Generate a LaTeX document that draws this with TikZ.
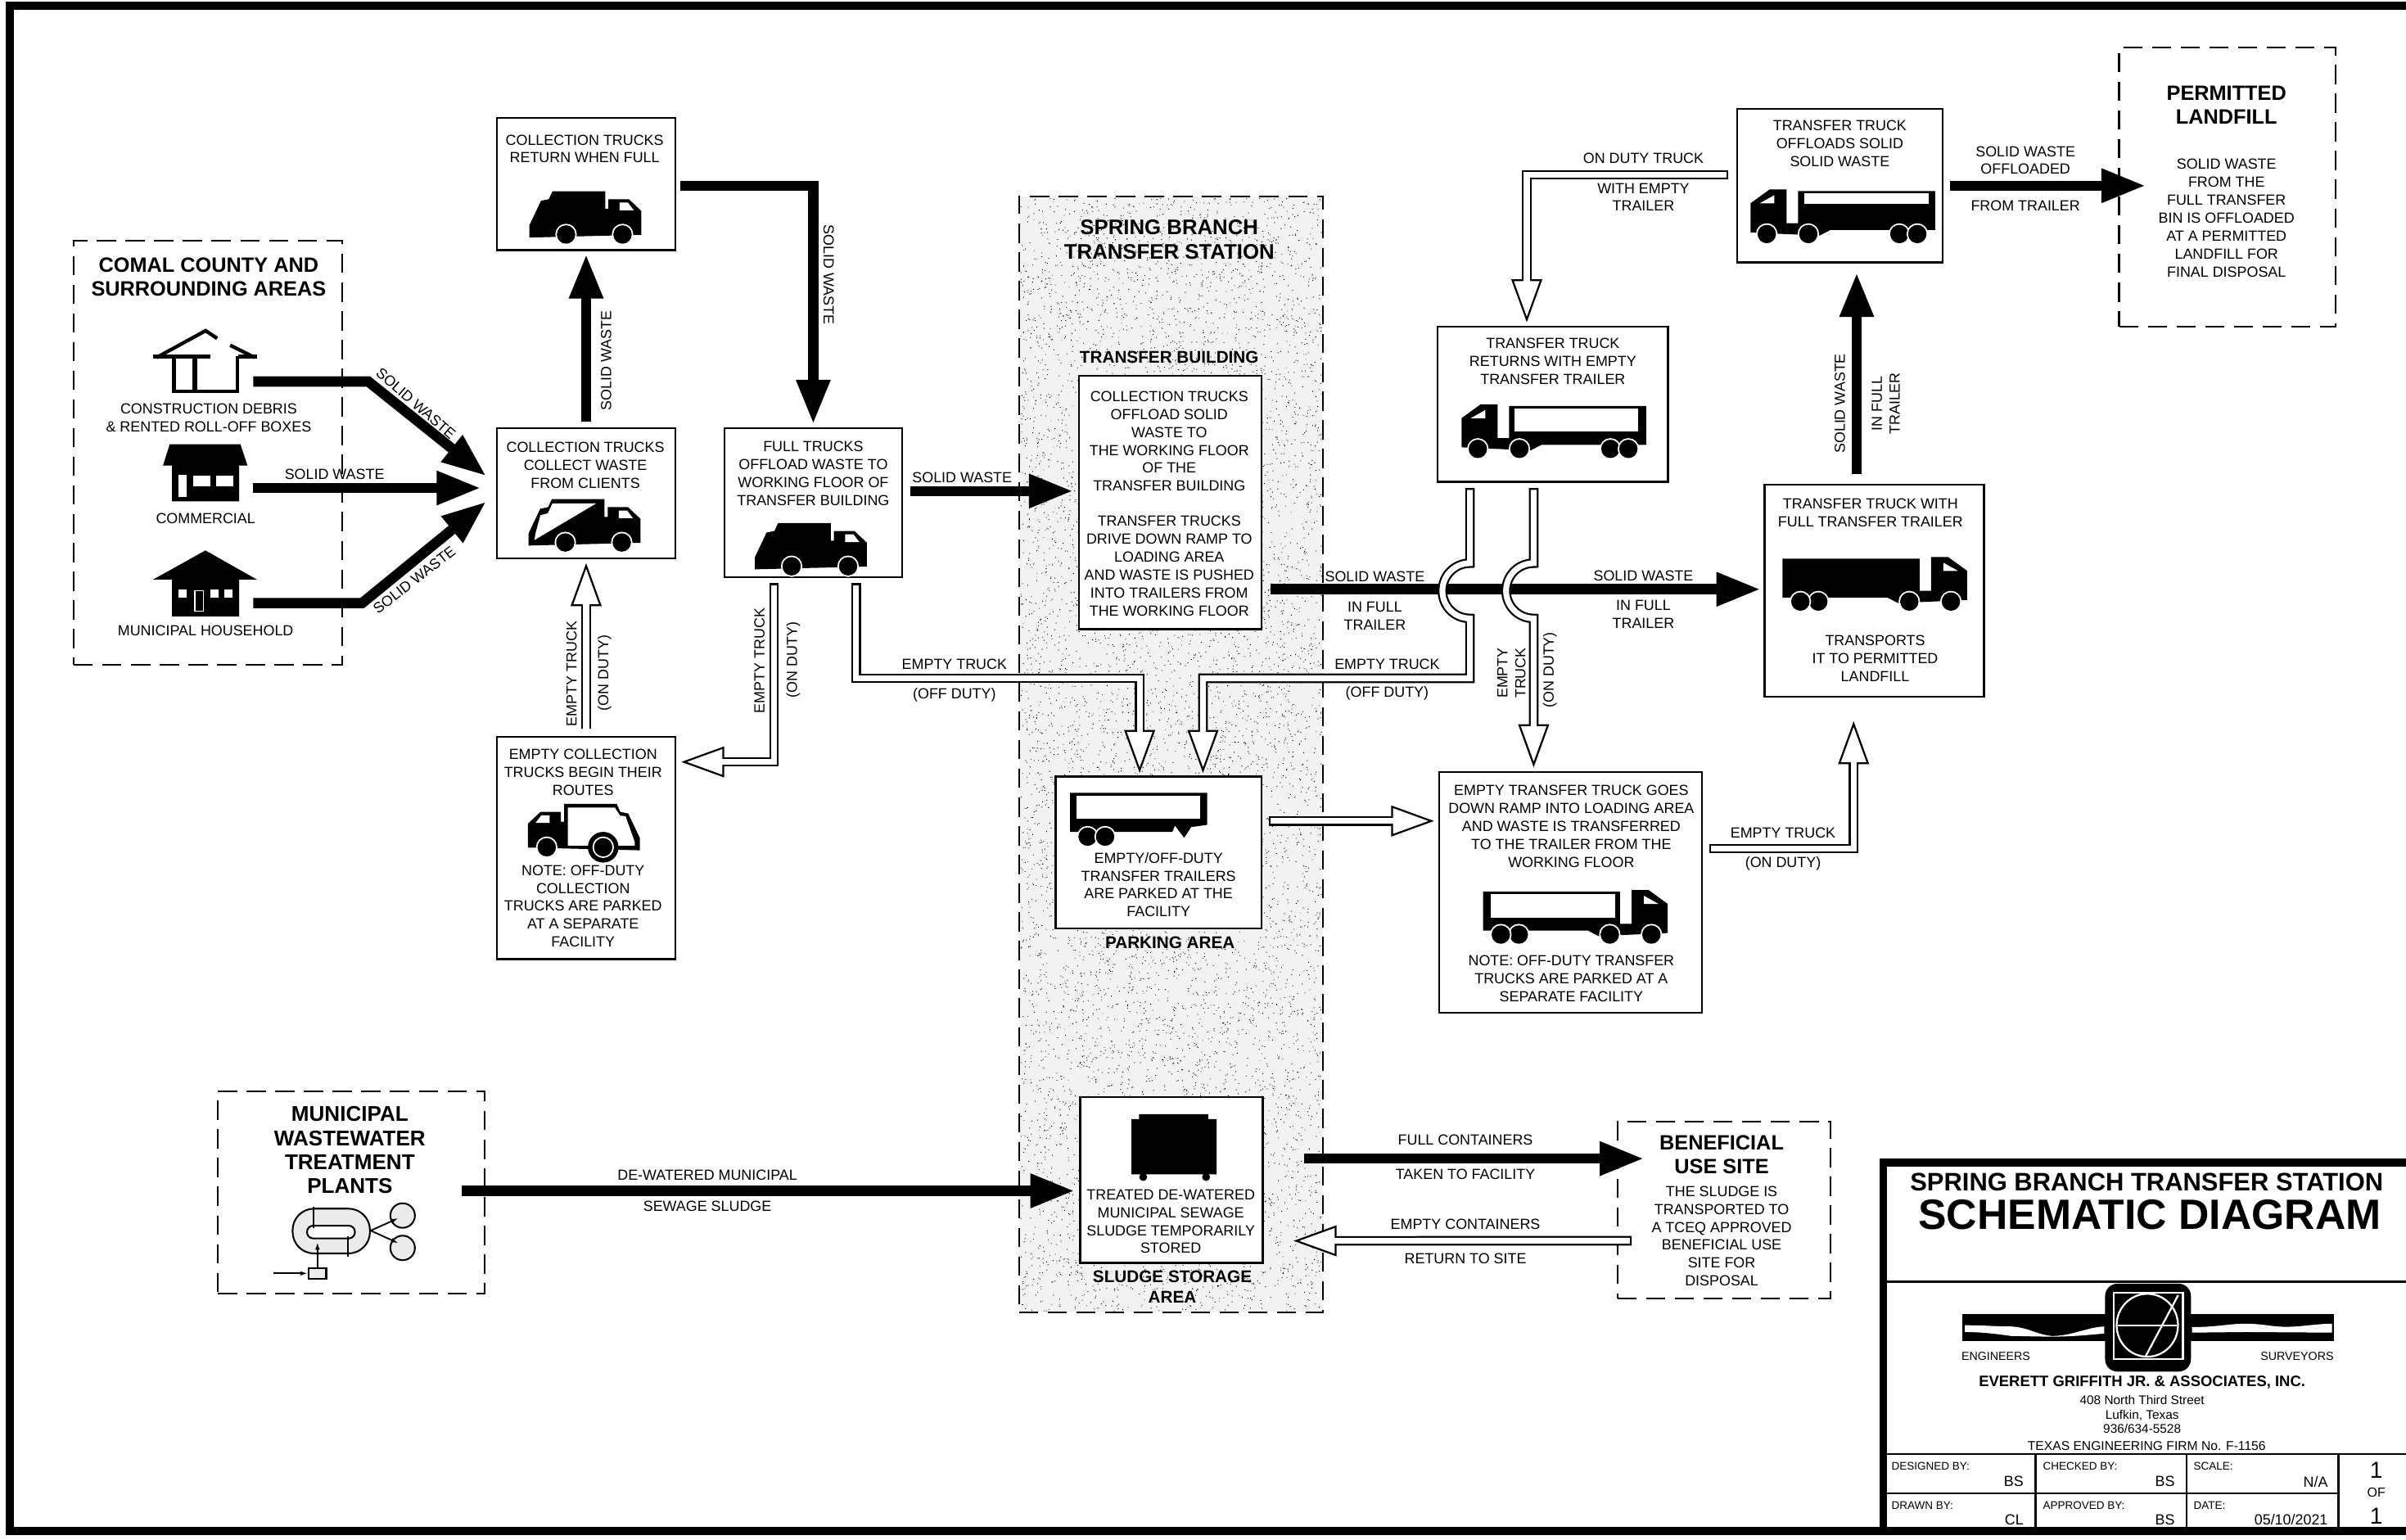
\documentclass[tikz,border=0pt]{standalone}
\usepackage{fontspec}
\setmainfont{Liberation Sans}
\usetikzlibrary{arrows.meta}
\newcommand\fsn{\fontsize{9.55}{11.7}\selectfont}
\newcommand\fst{\fontsize{13.5}{15.3}\selectfont\bfseries}
\newcommand\fsm{\fontsize{11.05}{13}\selectfont\bfseries}
\newcommand\wheelat[2]{\fill[white] (#1,#2) circle[radius=7pt]; \fill[black] (#1,#2) circle[radius=6pt];}
% garbage truck: origin at rear-left bottom, facing right; #1 scope options, #2 extra drawing before wheels
\newcommand\garbage[2]{\begin{scope}[#1]
\fill[black] (0,0) -- (0,-8) -- (7.6,-24) -- (12.7,-25) -- (15.1,-30.2) -- (49.4,-30.2) -- (49.4,-18.7) -- (51.5,-18.7) -- (51.5,-25) -- (64.8,-25) -- (72.9,-17.4) -- (72.9,-1.8) -- cycle;
\fill[white] (58.8,-22.8) -- (64.2,-22.8) -- (68,-17.8) -- (58.8,-17.8) -- cycle;
#2
\wheelat{23.9}{-2}\wheelat{60.7}{-2}
\end{scope}}
% transfer truck: origin at cab end bottom, cab on the left of the local frame
\newcommand\ttruck[2]{\begin{scope}[#1]
\fill[black] (0,-19) -- (12.4,-28) -- (23.5,-28) -- (23.5,-6) -- (31,-6) -- (31,-27) -- (120.3,-27) -- (120.3,-1.6) -- (52,-1.6) -- (45,2) -- (0,0) -- cycle;
\fill[white] (6,-19) -- (15.5,-19) -- (15.5,-24.3) -- cycle;
#2
\wheelat{10.6}{1}\wheelat{37.7}{1}\wheelat{97}{1}\wheelat{108.7}{1}
\end{scope}}
\tikzset{
  solidbox/.style={draw=black,line width=1.2pt,fill=white,inner sep=0pt,outer sep=0pt},
  dashbox/.style={draw=black,line width=1.1pt,dash pattern=on 12.5pt off 6.2pt,inner sep=0pt,outer sep=0pt},
  txt/.style={inner sep=0pt,outer sep=0pt,align=center,font=\fsn},
  ttl/.style={inner sep=0pt,outer sep=0pt,align=center,font=\fst},
  sub/.style={inner sep=0pt,outer sep=0pt,align=center,font=\fsm},
  small/.style={inner sep=0pt,outer sep=0pt,font=\fontsize{7.2}{8}\selectfont},
  heavy/.style={draw=black,line width=6.7pt,line join=miter,-{Triangle[length=29pt,width=20.6pt]}},
  hollow/.style={draw=black,line width=6.2pt,line join=miter,
     -{Triangle[length=28pt,width=20pt,line width=1.2pt,fill=white,color=black]},
     postaction={draw=white,line width=3.8pt,arrows=-,shorten <=1.2pt,shorten >=24pt}},
}
\begin{document}
\begin{tikzpicture}[x=1pt,y=-1pt]
\useasboundingbox (0,0) rectangle (1568,1003.5);
\fill[white] (0,0) rectangle (1568,1003.5);
% sheet frame
\fill[black] (3.7,1) rectangle (1568,6.4);
\fill[black] (3.7,1) rectangle (9,1000.5);
\fill[black] (3.7,995) rectangle (1568,1000.5);
% station area
\node[dashbox,fill=black!5,minimum width=198pt,minimum height=727pt] (station) at (763,491.5) {};
\pgfmathsetseed{12345}
\foreach \j in {1,...,12}{
\fill[black] \foreach \i in {1,...,700}{ ({665+196*rnd},{129+725*rnd}) rectangle +(0.5,0.5) };
}
% boxes
\node[dashbox,minimum width=175pt,minimum height=276pt] (comal) at (135.5,295) {};
\node[dashbox,minimum width=174pt,minimum height=132pt] (muni) at (229,777) {};
\node[dashbox,minimum width=141pt,minimum height=182pt] (landfill) at (1451.5,122) {};
\node[dashbox,minimum width=139pt,minimum height=115pt] (benef) at (1123.5,788.5) {};
\node[solidbox,minimum width=116pt,minimum height=86pt] (return) at (382,120) {};
\node[solidbox,minimum width=116pt,minimum height=85pt] (collect) at (382,321.5) {};
\node[solidbox,minimum width=116pt,minimum height=97pt] (full) at (530,327.5) {};
\node[solidbox,minimum width=116pt,minimum height=145pt] (begin) at (382,552.5) {};
\node[solidbox,minimum width=119pt,minimum height=165pt] (xfer) at (762.5,327.5) {};
\node[solidbox,minimum width=134pt,minimum height=99pt] (parking) at (755,555.5) {};
\node[solidbox,minimum width=119pt,minimum height=108pt] (sludge) at (763.5,769) {};
\node[solidbox,minimum width=150pt,minimum height=101pt] (returns) at (1012,263.5) {};
\node[solidbox,minimum width=134pt,minimum height=100pt] (offload) at (1199,121) {};
\node[solidbox,minimum width=143pt,minimum height=138pt] (fullT) at (1221.5,385) {};
\node[solidbox,minimum width=171pt,minimum height=157pt] (emptyT) at (1023.5,581.5) {};
% free ends
\coordinate (h1) at (165,248.6);
\coordinate (h1b) at (240,248.6);
\coordinate (tip1) at (317,310.3);
\coordinate (h2) at (165,318);
\coordinate (h3) at (165,393);
\coordinate (h3b) at (236,393);
\coordinate (tip3) at (317,326.8);
\coordinate (m1) at (650,442);
% heavy connectors
\draw[heavy] (h1) -- (h1b) -- (tip1);
\draw[heavy,shorten >=10.5pt] (h2) -- ([yshift=3.5pt]collect.west);
\draw[heavy] (h3) -- (h3b) -- (tip3);
\draw[heavy,shorten <=4pt,shorten >=2.5pt] (collect.north) -- (return.south);
\draw[heavy,shorten <=3.5pt,shorten >=2.5pt] ([yshift=-1pt]return.east) -| (full.north);
\draw[heavy,shorten <=5pt,shorten >=3.5pt] ([yshift=7.5pt]full.east) -- ([yshift=7.5pt]xfer.west);
\draw[heavy,shorten <=6pt,shorten >=2.5pt] ([yshift=-56.5pt]xfer.east) -- ([yshift=1pt]fullT.west);
\draw[heavy,shorten <=7.3pt,shorten >=6.5pt] ([xshift=-11.5pt]fullT.north) -- ([xshift=11pt]offload.south);
\draw[heavy,shorten <=5pt] ([yshift=0pt]offload.east) -- ([xshift=17.5pt,yshift=1pt]landfill.west);
\draw[heavy,shorten >=3.5pt] ([xshift=-15pt,yshift=1pt]muni.east) -- ([yshift=-7pt]sludge.west);
\draw[heavy] ([xshift=27pt,yshift=14pt]sludge.east) -- ([xshift=17.5pt,yshift=33.5pt]benef.west);
% hollow connectors
\draw[hollow,shorten <=5pt,shorten >=3pt] (begin.north) -- (collect.south);
\draw[hollow] ([xshift=-25.5pt,yshift=-4pt]full.south) |- ([xshift=4pt,yshift=56pt]begin.east);
\draw[hollow] ([xshift=28pt,yshift=-4pt]full.south) |- (m1) -| ([xshift=-12.3pt,yshift=2.3pt]parking.north);
\draw[hollow] ([xshift=-54pt,yshift=-4pt]returns.south) -- (958,367) .. controls (948,367) and (940,375) .. (940,385) .. controls (940,395) and (948,403) .. (958,403) -- (958,442) -- (784,442) -- ([xshift=29pt,yshift=2.3pt]parking.north);
\draw[hollow] ([xshift=-12.5pt,yshift=-4pt]returns.south) ++(0,0) -- (999.5,367) .. controls (989.5,367) and (981.5,375) .. (981.5,385) .. controls (981.5,395) and (989.5,403) .. (999.5,403) -- ([xshift=-24pt,yshift=3pt]emptyT.north);
\draw[hollow] ([xshift=5pt,yshift=20.5pt]parking.east) -- ([xshift=-3.4pt,yshift=46.5pt]emptyT.west);
\draw[hollow] ([xshift=5pt,yshift=28.5pt]emptyT.east) -| ([xshift=-13.5pt,yshift=-16pt]fullT.south);
\draw[hollow] ([xshift=-5.5pt,yshift=7pt]offload.west) -| ([xshift=-17pt,yshift=3pt]returns.north);
\draw[hollow] ([xshift=9.4pt,yshift=-20pt]benef.west) -- ([xshift=20pt,yshift=-39.6pt]sludge.east);
% comal texts and houses
\node[ttl] (tcomal) at (136,180.5) {COMAL COUNTY AND\\SURROUNDING AREAS};
\node[txt] (tcon) at (136,272.5) {CONSTRUCTION DEBRIS\\\& RENTED ROLL-OFF BOXES};
\node[txt] (tcom) at (134,338) {COMMERCIAL};
\node[txt] (tmun) at (134,411) {MUNICIPAL HOUSEHOLD};
\draw[black,line width=2.3pt,line join=miter] (102,233) -- (134,215.5) -- (141.5,220.5);
\draw[black,line width=2.3pt] (150,225) -- (166,233);
\fill[black] (100,231.2) rectangle (137.2,233.6);
\fill[black] (155,231.2) rectangle (167.5,233.6);
\draw[black,line width=2.2pt] (113.4,232) -- (113.4,255) -- (154.8,255) -- (154.8,232);
\draw[black,line width=2.8pt] (127,232) -- (127,255);
\fill[black] (110.6,289.5) -- (156.7,289.5) -- (161.3,303.4) -- (155.9,303.4) -- (155.9,326.7) -- (112.1,326.7) -- (112.1,303.4) -- (106.2,303.4) -- cycle;
\fill[white] (116.5,309.5) rectangle (121.7,323.8);
\fill[white] (126,309.9) rectangle (137.2,317.1);
\fill[white] (141.1,309.9) rectangle (152,317.1);
\fill[black] (133.9,358.7) -- (167.5,377.7) -- (155.9,377.7) -- (155.9,401.6) -- (112.1,401.6) -- (112.1,377.7) -- (99.7,377.7) -- cycle;
\fill[white] (116.5,384.2) rectangle (121.7,389.2);
\fill[white] (137.2,384.2) rectangle (142.4,389.2);
\fill[white] (146.3,384.2) rectangle (151.5,389.2);
\draw[white,line width=0.7pt] (126.9,384.8) rectangle (132.6,398.1);
% arrow labels, left part
\node[txt,rotate=-41] (l1) at (271,263) {SOLID WASTE};
\node[txt] (l2) at (218,309) {SOLID WASTE};
\node[txt,rotate=38] (l3) at (270,378) {SOLID WASTE};
\node[txt,rotate=90] (l4) at (395,235) {SOLID WASTE};
\node[txt,rotate=-90] (l5) at (540,179) {SOLID WASTE};
\node[txt,rotate=90] (l6) at (372.5,439) {EMPTY TRUCK};
\node[txt,rotate=90] (l7) at (394,438.6) {(ON DUTY)};
\node[txt,rotate=90] (l8) at (495,430.5) {EMPTY TRUCK};
\node[txt,rotate=90] (l9) at (517,430) {(ON DUTY)};
\node[txt] (l10) at (627,311) {SOLID WASTE};
\node[txt] (l11) at (622,433) {EMPTY TRUCK};
\node[txt] (l12) at (622,453) {(OFF DUTY)};
% box texts, collection side
\node[txt] (t1) at (381,97) {COLLECTION TRUCKS\\RETURN WHEN FULL};
\node[txt] (t2) at (381.5,303) {COLLECTION TRUCKS\\COLLECT WASTE\\FROM CLIENTS};
\node[txt] (t3) at (530,308.5) {FULL TRUCKS\\OFFLOAD WASTE TO\\WORKING FLOOR OF\\TRANSFER BUILDING};
\node[txt] (t4) at (380,503.5) {EMPTY COLLECTION\\TRUCKS BEGIN THEIR\\ROUTES};
\node[txt] (t5) at (380,590.5) {NOTE: OFF-DUTY\\COLLECTION\\TRUCKS ARE PARKED\\AT A SEPARATE\\FACILITY};
% garbage trucks
\garbage{shift={(345,154.8)}}{}
\garbage{shift={(344.5,355.5)}}{\fill[white] (15.5,-27.4) -- (44,-27.4) -- (3.8,-3.6) -- (4.5,-8) -- (7.7,-19.8) -- (12.5,-21) -- cycle;}
\garbage{shift={(492,371)}}{}
\garbage{shift={(417,554.1)},xscale=-1}{\fill[white] (46.9,-27.9) -- (16.4,-27.9) -- (12.9,-22.6) -- (9.3,-22.2) -- (3.3,-5.3) -- (3.3,-3.1) -- (46.9,-3.1) -- cycle;
\fill[black] (23.9,-2) circle[radius=10pt];}
% station texts
\node[ttl,font=\fontsize{13.75}{15.8}\selectfont\bfseries] (t6) at (762,156) {SPRING BRANCH\\TRANSFER STATION};
\node[sub] (t7) at (762,233) {TRANSFER BUILDING};
\node[txt] (t8) at (762,287.5) {COLLECTION TRUCKS\\OFFLOAD SOLID\\WASTE TO\\THE WORKING FLOOR\\OF THE\\TRANSFER BUILDING};
\node[txt] (t9) at (762,369) {TRANSFER TRUCKS\\DRIVE DOWN RAMP TO\\LOADING AREA\\AND WASTE IS PUSHED\\INTO TRAILERS FROM\\THE WORKING FLOOR};
\node[txt] (t10) at (755,576.5) {EMPTY/OFF-DUTY\\TRANSFER TRAILERS\\ARE PARKED AT THE\\FACILITY};
\node[sub] (t11) at (762.5,614) {PARKING AREA};
\node[txt] (t12) at (763,796) {TREATED DE-WATERED\\MUNICIPAL SEWAGE\\SLUDGE TEMPORARILY\\STORED};
\node[sub] (t13) at (764,838.5) {SLUDGE STORAGE\\AREA};
% parked trailer
\fill[black] (697.4,516.7) -- (786.7,516.7) -- (786.7,537.5) -- (776.2,539) -- (771.7,546) -- (765.7,538) -- (764,542.1) -- (697.4,542.1) -- cycle;
\fill[white] (701.3,518.6) rectangle (782.2,533.6);
\wheelat{708.8}{545.2}\wheelat{720.2}{545.2}
% sludge container
\fill[black] (742.3,726) -- (787.4,726) -- (787.4,729.2) -- (792.9,729.2) -- (792.9,765.2) -- (737.4,765.2) -- (737.4,729.2) -- (742.3,729.2) -- cycle;
\fill[black] (745,767) circle[radius=2.6pt];
\fill[black] (786,767) circle[radius=2.6pt];
% wastewater
\node[ttl,font=\fontsize{13.9}{15.6}\selectfont\bfseries] (t14) at (228,749.5) {MUNICIPAL\\WASTEWATER\\TREATMENT\\PLANTS};
\draw[black,fill=black!8,line width=1.1pt,rounded corners=14pt] (190.7,787.6) rectangle (241.1,816.8);
\draw[black,fill=white,line width=1.1pt,rounded corners=4pt] (200.1,798.7) rectangle (231.3,807);
\draw[black,fill=black!8,line width=1.1pt] (262.4,792.1) circle[radius=8pt];
\draw[black,fill=black!8,line width=1.1pt] (262.4,813.2) circle[radius=8pt];
\draw[black,line width=1pt,-{Latex[length=5pt,width=3pt]}] (241.6,801.9) -- (259.8,793.7);
\draw[black,line width=1pt,-{Latex[length=5pt,width=3pt]}] (241.6,801.9) -- (259.8,810.2);
\draw[black,fill=black!8,line width=1.1pt] (201,826.2) rectangle (212.6,833.4);
\draw[black,line width=1pt,-{Latex[length=5pt,width=3pt]}] (206.9,826.2) -- (206.9,809.3);
\draw[black,line width=1pt,-{Latex[length=5pt,width=3pt]}] (178.3,829.8) -- (200.7,829.8);
\draw[black,line width=1pt] (204.2,786.2) -- (204.2,800.4);
\draw[black,line width=1pt] (226.8,805.8) -- (226.8,819.1);
\node[txt] (l13) at (461,766) {DE-WATERED MUNICIPAL};
\node[txt] (l14) at (461,786) {SEWAGE SLUDGE};
% right part labels
\node[txt] (l15) at (896,376) {SOLID WASTE};
\node[txt] (l16) at (896,401.5) {IN FULL\\TRAILER};
\node[txt] (l17) at (904,433) {EMPTY TRUCK};
\node[txt] (l18) at (904,452) {(OFF DUTY)};
\node[txt] (l19) at (1071,375) {SOLID WASTE};
\node[txt] (l20) at (1071,400.5) {IN FULL\\TRAILER};
\node[txt,rotate=90] (l21) at (985,438.6) {EMPTY\\TRUCK};
\node[txt,rotate=90] (l22) at (1010,436.6) {(ON DUTY)};
\node[txt] (l23) at (1071,103) {ON DUTY TRUCK};
\node[txt] (l24) at (1071,128.5) {WITH EMPTY\\TRAILER};
\node[txt,rotate=90] (l25) at (1199,263) {SOLID WASTE};
\node[txt,rotate=90] (l26) at (1229,263) {IN FULL\\TRAILER};
\node[txt] (l27) at (1320,104.5) {SOLID WASTE\\OFFLOADED};
\node[txt] (l28) at (1320,134) {FROM TRAILER};
\node[txt] (l29) at (1162,543) {EMPTY TRUCK};
\node[txt] (l30) at (1162,563) {(ON DUTY)};
\node[txt] (l31) at (955,743) {FULL CONTAINERS};
\node[txt] (l32) at (955,765) {TAKEN TO FACILITY};
\node[txt] (l33) at (955,798) {EMPTY CONTAINERS};
\node[txt] (l34) at (955,820) {RETURN TO SITE};
% right box texts
\node[txt] (t15) at (1012,235.5) {TRANSFER TRUCK\\RETURNS WITH EMPTY\\TRANSFER TRAILER};
\node[txt] (t16) at (1199,93.5) {TRANSFER TRUCK\\OFFLOADS SOLID\\SOLID WASTE};
\node[txt] (t17) at (1219,334) {TRANSFER TRUCK WITH\\FULL TRANSFER TRAILER};
\node[txt] (t18) at (1222,429) {TRANSPORTS\\IT TO PERMITTED\\LANDFILL};
\node[txt] (t19) at (1024,538.5) {EMPTY TRANSFER TRUCK GOES\\DOWN RAMP INTO LOADING AREA\\AND WASTE IS TRANSFERRED\\TO THE TRAILER FROM THE\\WORKING FLOOR};
\node[txt] (t20) at (1024,637.5) {NOTE: OFF-DUTY TRANSFER\\TRUCKS ARE PARKED AT A\\SEPARATE FACILITY};
\node[ttl] (t21) at (1451,68.5) {PERMITTED\\LANDFILL};
\node[txt] (t22) at (1451,142) {SOLID WASTE\\FROM THE\\FULL TRANSFER\\BIN IS OFFLOADED\\AT A PERMITTED\\LANDFILL FOR\\FINAL DISPOSAL};
\node[ttl] (t23) at (1122,752.5) {BENEFICIAL\\USE SITE};
\node[txt] (t24) at (1122,805.5) {THE SLUDGE IS\\TRANSPORTED TO\\A TCEQ APPROVED\\BENEFICIAL USE\\SITE FOR\\DISPOSAL};
% transfer trucks
\ttruck{shift={(952.5,291.5)}}{\fill[white] (34.6,-25.2) rectangle (115.3,-10.1);}
\ttruck{shift={(1140.8,151.5)}}{\fill[white] (35,-25.6) rectangle (116,-18.5);}
\ttruck{shift={(1282,391)},xscale=-1}{}
\ttruck{shift={(1086.8,608)},xscale=-1}{\fill[white] (34,-25.5) rectangle (115.5,-10);}
% title block
\fill[black] (1225,755) rectangle (1229.5,1000);
\fill[black] (1225,755) rectangle (1568,760);
\draw[black,line width=1.6pt] (1229,835) -- (1568,835);
\draw[black,line width=1.2pt] (1229,947.5) -- (1568,947.5);
\draw[black,line width=1.2pt] (1229,973) -- (1524,973);
\draw[black,line width=1.2pt] (1326.5,947.5) -- (1326.5,995);
\draw[black,line width=1.2pt] (1425,947.5) -- (1425,995);
\draw[black,line width=1.2pt] (1524,947.5) -- (1524,995);
\node[inner sep=0pt,font=\fontsize{16.5}{18}\selectfont\bfseries] (b1) at (1399,770.5) {SPRING BRANCH TRANSFER STATION};
\node[inner sep=0pt,font=\fontsize{27.6}{29}\selectfont\bfseries] (b2) at (1401,791.5) {SCHEMATIC DIAGRAM};
% logo
\fill[black] (1279,856.5) rectangle (1521,874);
\fill[white] (1280.5,863.6) .. controls (1295,863.6) and (1300,864.4) .. (1310.8,864.4) .. controls (1322,865) and (1328,870) .. (1337.7,870.6) .. controls (1350,870.5) and (1360,865) .. (1371.3,864.4) -- (1371.3,869) .. controls (1360,870) and (1350,871) .. (1337.7,871) .. controls (1325,871) and (1318,870.6) .. (1310.8,870.6) .. controls (1300,869) and (1290,868) .. (1280.5,868) -- cycle;
\fill[white] (1428.5,864.8) .. controls (1445,864.8) and (1452,862.6) .. (1463.2,862.6) .. controls (1475,862.6) and (1480,864.6) .. (1490,864.6) .. controls (1500,864.6) and (1510,862.6) .. (1519.7,862.6) -- (1519.7,868.4) -- (1463.2,868) -- (1428.5,868.4) -- cycle;
\fill[black,rounded corners=8pt] (1371.9,836.5) rectangle (1427.8,893.8);
\draw[white,line width=1.1pt] (1377.6,842.6) rectangle (1422.6,885.4);
\draw[white,line width=1.2pt] (1399.4,863.6) ellipse [x radius=20pt,y radius=20.5pt];
\draw[white,line width=1.2pt] (1380,863.6) -- (1418.4,863.6);
\draw[white,line width=1.2pt] (1419.5,844) -- (1398.2,884);
\node[inner sep=0pt,font=\fontsize{7.6}{9}\selectfont] (b3) at (1300.7,884) {ENGINEERS};
\node[inner sep=0pt,font=\fontsize{7.6}{9}\selectfont] (b4) at (1497,884) {SURVEYORS};
\node[inner sep=0pt,font=\fontsize{9.85}{11}\selectfont\bfseries] (b5) at (1396,901) {EVERETT GRIFFITH JR. \& ASSOCIATES, INC.};
\node[inner sep=0pt,align=center,font=\fontsize{8.2}{9.5}\selectfont] (b6) at (1396,921.7) {408 North Third Street\\Lufkin, Texas\\936/634-5528};
\node[inner sep=0pt,font=\fontsize{8.35}{10}\selectfont] (b7) at (1399,942.3) {TEXAS ENGINEERING FIRM No. F-1156};
\node[small,anchor=west] (c1) at (1232.8,955.5) {DESIGNED BY:};
\node[small,anchor=west] (c2) at (1331.4,955.5) {CHECKED BY:};
\node[small,anchor=west] (c3) at (1429.6,955.5) {SCALE:};
\node[small,anchor=west] (c4) at (1232.8,981) {DRAWN BY:};
\node[small,anchor=west] (c5) at (1331.4,981) {APPROVED BY:};
\node[small,anchor=west] (c6) at (1429.6,981) {DATE:};
\node[txt,anchor=east] (c7) at (1318.7,965.5) {BS};
\node[txt,anchor=east] (c8) at (1417.3,965.5) {BS};
\node[txt,anchor=east] (c9) at (1517,965.5) {N/A};
\node[txt,anchor=east] (c10) at (1318.7,990.4) {CL};
\node[txt,anchor=east] (c11) at (1417.3,990.4) {BS};
\node[txt,anchor=east] (c12) at (1517,990.4) {05/10/2021};
\node[inner sep=0pt,font=\fontsize{15}{16}\selectfont] (c13) at (1548.6,958) {1};
\node[inner sep=0pt,font=\fontsize{8.5}{9}\selectfont] (c14) at (1548.6,972.6) {OF};
\node[inner sep=0pt,font=\fontsize{15}{16}\selectfont] (c15) at (1548.6,988) {1};
\end{tikzpicture}
\end{document}
